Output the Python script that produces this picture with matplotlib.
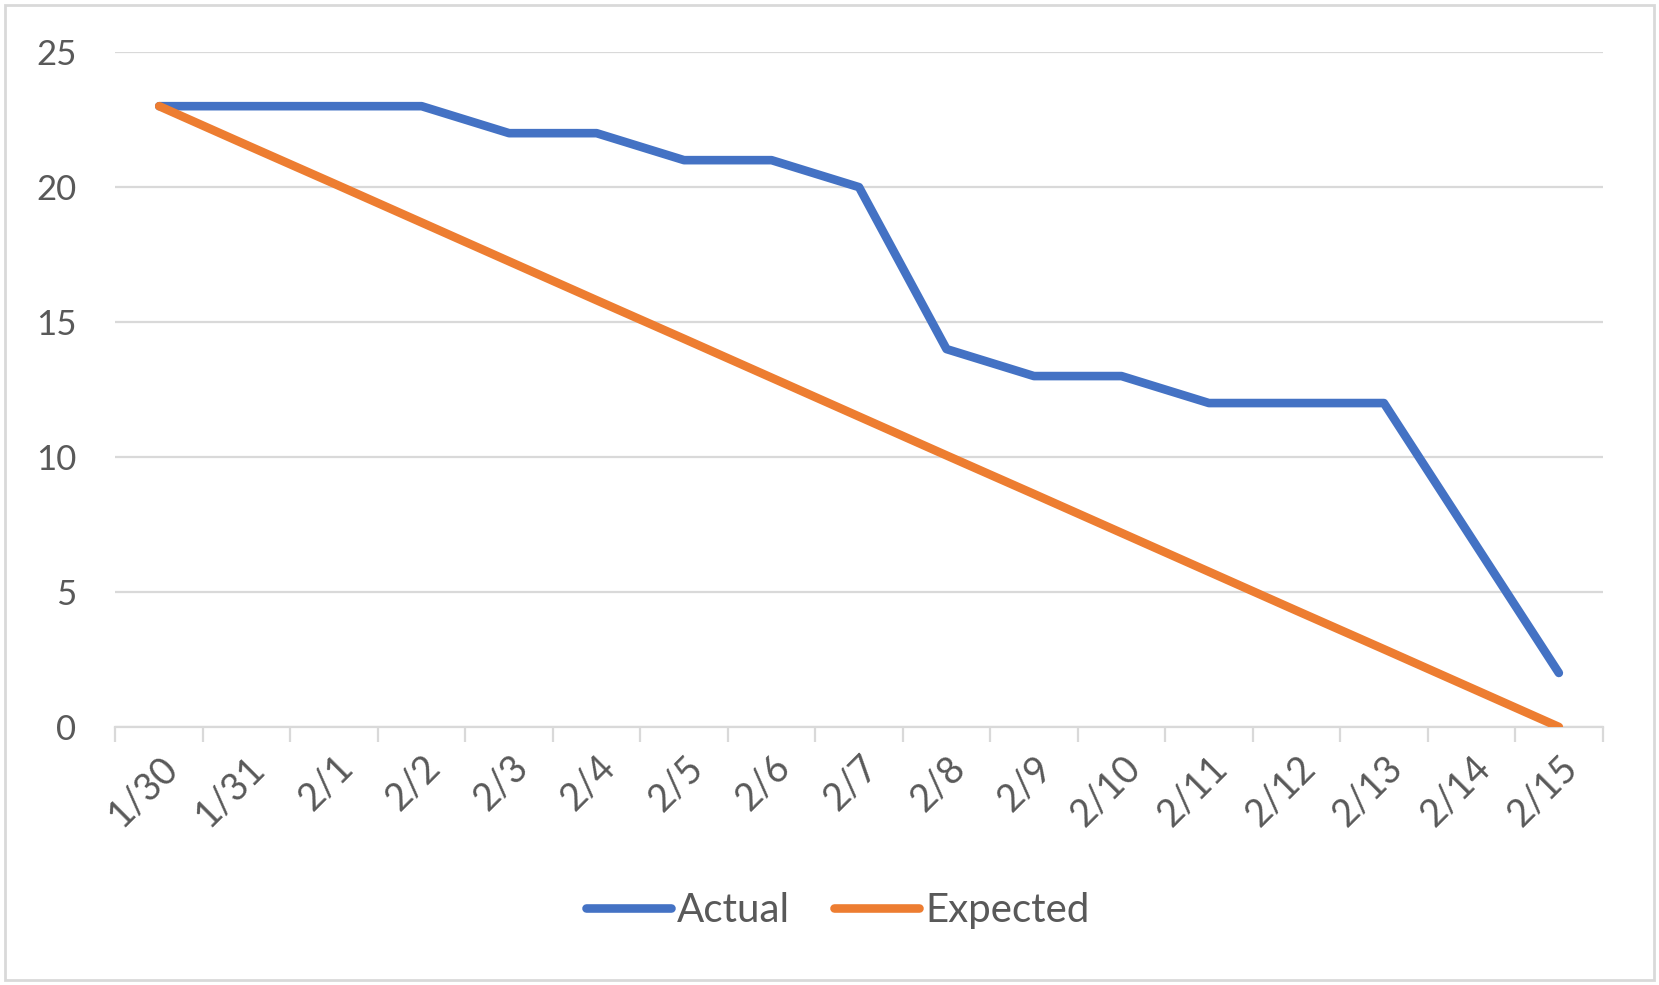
import matplotlib.pyplot as plt
from matplotlib.patches import Rectangle

plt.rcParams['font.family'] = ['Lato', 'DejaVu Sans']

# 数据
dates = ['1/30', '1/31', '2/1', '2/2', '2/3', '2/4', '2/5', '2/6', '2/7',
         '2/8', '2/9', '2/10', '2/11', '2/12', '2/13', '2/14', '2/15']
actual = [23, 23, 23, 23, 22, 22, 21, 21, 20, 14, 13, 13, 12, 12, 12, 7, 2]
expected = [23, 21.56, 20.13, 18.69, 17.25, 15.81, 14.38, 12.94, 11.5,
            10.06, 8.63, 7.19, 5.75, 4.31, 2.88, 1.44, 0]

text_color = '#595959'
grid_color = '#D9D9D9'

fig = plt.figure(figsize=(16.59, 9.85), dpi=100)
ax = fig.add_axes([0.0696, 0.262, 0.8964, 0.685])

x = list(range(len(dates)))
ax.plot(x, actual, color='#4472C4', lw=6.2, solid_capstyle='round',
        solid_joinstyle='round', label='Actual', zorder=3)
ax.plot(x, expected, color='#ED7D31', lw=6.2, solid_capstyle='round',
        solid_joinstyle='round', label='Expected', zorder=3)

ax.set_xlim(-0.5, len(dates) - 0.5)
ax.set_ylim(0, 25)
ax.set_yticks([0, 5, 10, 15, 20, 25])
ax.yaxis.grid(True, color=grid_color, lw=1.6)
ax.set_axisbelow(True)

for s in ['top', 'right', 'left']:
    ax.spines[s].set_visible(False)
ax.spines['bottom'].set_color(grid_color)
ax.spines['bottom'].set_linewidth(1.6)

# 类别刻度在中间，刻度线在类别之间
ax.set_xticks(x)
ax.set_xticklabels(dates, rotation=45, ha='right', va='top',
                   rotation_mode='anchor', fontsize=27, color=text_color)
ax.set_xticks([i - 0.5 for i in range(len(dates) + 1)], minor=True)
ax.tick_params(axis='x', which='major', length=0, pad=16)
ax.tick_params(axis='x', which='minor', length=11, width=1.6, color=grid_color)
ax.tick_params(axis='y', length=0, pad=28, labelsize=25, labelcolor=text_color)

leg = fig.legend(loc='center', bbox_to_anchor=(0.505, 0.076), ncol=2,
                 frameon=False, fontsize=29, handlelength=2.1,
                 handletextpad=0.15, columnspacing=1.1)
for t in leg.get_texts():
    t.set_color(text_color)
for h in leg.get_lines():
    h.set_solid_capstyle('round')

# 外框
fig.patches.append(Rectangle((0.003, 0.005), 0.994, 0.99, transform=fig.transFigure,
                             fill=False, edgecolor=grid_color, lw=2))

fig.savefig('out.png', dpi=100, facecolor='white')
